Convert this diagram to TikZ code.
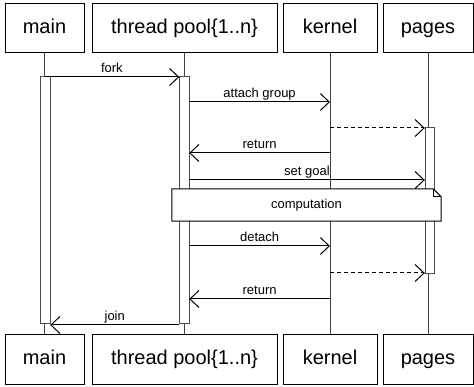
\documentclass[tikz,border=0pt]{standalone}
\usepackage{fontspec}
\setmainfont{Liberation Sans}
\usetikzlibrary{arrows.meta}
\begin{document}
\begin{tikzpicture}[x=1pt,y=-1pt,
  actor/.style={draw=black,line width=1pt,fill=white,minimum height=49pt,
    inner sep=0pt,text height=13pt,text depth=2pt,font=\fontsize{20}{22}\selectfont},
  life/.style={draw=black!75,line width=1pt},
  activation/.style={draw=black!70,line width=1pt,fill=white},
  msg/.style={line width=1pt,-{Straight Barb[length=9pt,width=17pt]}},
  reply/.style={msg,dashed,dash pattern=on 4pt off 3pt},
  lbl/.style={font=\fontsize{13}{15}\selectfont,anchor=base,inner sep=0pt},
  note/.style={draw=black,line width=1pt,fill=white}]
\useasboundingbox (0,0) rectangle (474,387);

% participants, head and foot
\foreach \n/\a/\b/\t in {main/5/84/main, pool/92/277/{thread pool\{1..n\}},
                         kern/283/377/kernel, page/383/473/pages} {
  \node[actor,minimum width=\b-\a] (\n T) at ({(\a+\b)/2},28) {\t};
  \node[actor,minimum width=\b-\a] (\n B) at ({(\a+\b)/2},359.5) {\t};
  \draw[life] (\n T.south) -- (\n B.north);
}

% activation bars
\path[activation] (40.5,77) rectangle (50,324);
\node[inner sep=0pt,minimum width=9.5pt,minimum height=247pt] (actMain) at (45.25,200.5) {};
\path[activation] (179.5,77) rectangle (189,324);
\node[inner sep=0pt,minimum width=9.5pt,minimum height=247pt] (actPool) at (184.25,200.5) {};
\path[activation] (425,128) rectangle (434,274);
\node[inner sep=0pt,minimum width=9pt,minimum height=146pt] (actPage) at (429.5,201) {};

% messages
\draw[msg] (mainT.south |- 0,77) -- (actPool.west |- 0,77)
  node[lbl,pos=0.5,yshift=4pt] {fork};
\draw[msg] (actPool.east |- 0,102) -- (kernT.south |- 0,102)
  node[lbl,pos=0.5,yshift=4pt] {attach group};
\draw[reply] (kernT.south |- 0,128) -- (actPage.west |- 0,128);
\draw[msg] (kernT.south |- 0,153) -- (actPool.east |- 0,153)
  node[lbl,pos=0.5,yshift=4pt] {return};
\draw[msg] (actPool.east |- 0,180) -- (actPage.west |- 0,180)
  node[lbl,pos=0.5,yshift=4pt] {set goal};

% note spanning the worker, kernel and pages
\node[inner sep=0pt,minimum width=269pt,minimum height=32pt] (comp) at (306.5,205) {};
\draw[note] (comp.north west) -- ([xshift=-8pt]comp.north east)
  -- ([yshift=-8pt]comp.north east) -- (comp.south east) -- (comp.south west) -- cycle;
\draw[line width=1pt] ([xshift=-8pt]comp.north east) -- ([xshift=-8pt,yshift=-8pt]comp.north east)
  -- ([yshift=-8pt]comp.north east);
\node[font=\fontsize{13}{15}\selectfont] at (comp.center) {computation};

\draw[msg] (actPool.east |- 0,246) -- (kernT.south |- 0,246)
  node[lbl,pos=0.5,yshift=4pt] {detach};
\draw[reply] (kernT.south |- 0,273) -- (actPage.west |- 0,273);
\draw[msg] (kernT.south |- 0,299) -- (actPool.east |- 0,299)
  node[lbl,pos=0.5,yshift=4pt] {return};
\draw[msg] (actPool.west |- 0,325) -- (actMain.east |- 0,325)
  node[lbl,pos=0.5,yshift=4pt] {join};
\end{tikzpicture}
\end{document}
